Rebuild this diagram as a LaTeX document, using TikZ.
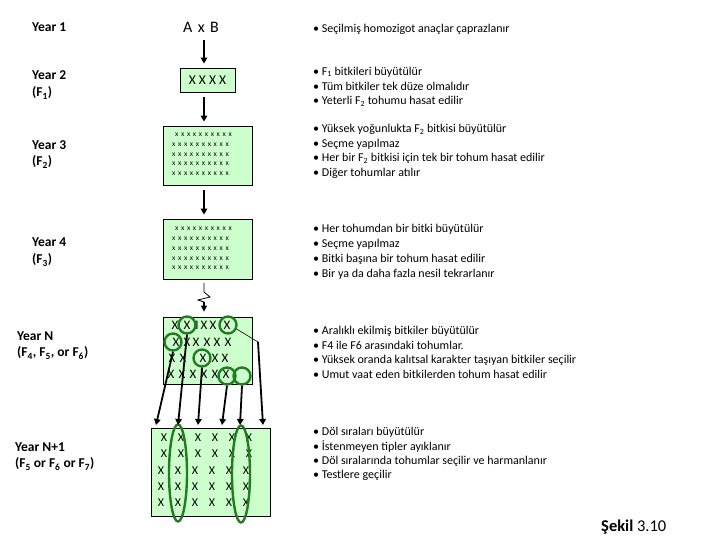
\documentclass[tikz,border=0pt]{standalone}
\usepackage{fontspec}
\setmainfont{Carlito}
\usetikzlibrary{arrows.meta,shapes.geometric}
\definecolor{boxgreen}{RGB}{204,255,204}
\definecolor{ringgreen}{RGB}{34,125,34}
\newcommand\xg{\hspace{2.7pt}}
\newcommand\xtenrow{x\xg x\xg x\xg x\xg x\xg x\xg x\xg x\xg x\xg x}
\begin{document}
\begin{tikzpicture}[x=1pt,y=-1pt,
  yearlbl/.style={font=\fontsize{13.5}{15}\selectfont\bfseries, anchor=west, inner sep=0},
  bul/.style={font=\fontsize{12}{14}\selectfont, anchor=west, inner sep=0},
  gbox/.style={draw=black, line width=0.8pt, fill=boxgreen, inner sep=0},
  flow/.style={line width=1.6pt, -{Triangle[length=6pt,width=6.5pt]}},
  pick/.style={line width=1.8pt, -{Triangle[length=6pt,width=6.5pt]}},
  ring/.style={draw=ringgreen, line width=2.4pt, circle, minimum size=17pt, inner sep=0},
  oval/.style={draw=ringgreen, line width=2.4pt, ellipse, minimum width=18pt, minimum height=97pt, inner sep=0},
  smallx/.style={font=\fontsize{7.5}{8}\selectfont, inner sep=0},
  bigx/.style={font=\fontsize{13}{14}\selectfont, inner sep=0},
  gridx/.style={font=\fontsize{12}{13}\selectfont, inner sep=0}]
\useasboundingbox (0,0) rectangle (720,540);

% left labels
\node[yearlbl] (y1) at (32,27) {Year 1};
\node[yearlbl] (y2) at (32,75) {Year 2};
\node[yearlbl] (y2f) at (32,93) {(F\textsubscript{1})};
\node[yearlbl] (y3) at (32,145) {Year 3};
\node[yearlbl] (y3f) at (32,162) {(F\textsubscript{2})};
\node[yearlbl] (y4) at (32,242) {Year 4};
\node[yearlbl] (y4f) at (32,260) {(F\textsubscript{3})};
\node[yearlbl] (yn) at (17,336) {Year N};
\node[yearlbl] (ynf) at (17,353) {(F\textsubscript{4}, F\textsubscript{5}, or F\textsubscript{6})};
\node[yearlbl] (yn1) at (15,447) {Year N+1};
\node[yearlbl] (yn1f) at (15,464) {(F\textsubscript{5} or F\textsubscript{6} or F\textsubscript{7})};

% centre column
\node[font=\fontsize{16}{18}\selectfont, inner sep=0] (ab) at (201,27) {A\,\,x\,\,B};
\node[gbox, minimum width=55pt, minimum height=24pt, font=\fontsize{13.5}{15}\selectfont] (b1) at (207.5,80) {X X X X};
\node[gbox, minimum width=89pt, minimum height=59pt] (b2) at (207.5,155.5) {};
\node[gbox, minimum width=89pt, minimum height=60pt] (b3) at (207.5,249) {};
\node[gbox, minimum width=89pt, minimum height=67pt] (b4) at (207.5,350.5) {};
\node[gbox, minimum width=119pt, minimum height=88pt] (b5) at (210.5,472) {};

% x rows
\node[smallx] (b2r1) at (203.5,135) {\xtenrow};
\node[smallx] (b2r2) at (200.5,145) {\xtenrow};
\node[smallx] (b2r3) at (200.5,154.5) {\xtenrow};
\node[smallx] (b2r4) at (200.5,164) {\xtenrow};
\node[smallx] (b2r5) at (200.5,173.5) {\xtenrow};
\node[smallx] (b3r1) at (203.5,229) {\xtenrow};
\node[smallx] (b3r2) at (200.5,239) {\xtenrow};
\node[smallx] (b3r3) at (200.5,248.5) {\xtenrow};
\node[smallx] (b3r4) at (200.5,258.5) {\xtenrow};
\node[smallx] (b3r5) at (200.5,268) {\xtenrow};

% Year N plants
\foreach \xx [count=\i] in {175,187,204,213,227} \node[bigx] (na\i) at (\xx,325) {X};
\node[bigx] (naI) at (197,325) {I};
\foreach \xx [count=\i] in {176,187,196,207,217,228} \node[bigx] (nb\i) at (\xx,342) {X};
\foreach \xx [count=\i] in {172,183,203,215,225} \node[bigx] (nc\i) at (\xx,358) {X};
\foreach \xx [count=\i] in {171,182,193,204,215,226} \node[bigx] (nd\i) at (\xx,374) {X};

% Year N+1 rows
\foreach \yy [count=\j] in {438,454} {
  \foreach \xx [count=\i] in {164,181,198,215,232,249} \node[gridx] (g\j c\i) at (\xx,\yy) {X};
}
\foreach \yy [count=\j from 3] in {471,487,503} {
  \foreach \xx [count=\i] in {161,178,195,212,229,246} \node[gridx] (g\j c\i) at (\xx,\yy) {X};
}

% selection rings
\node[ring] (c1) at (187,325) {};
\node[ring] (c2) at (228,325) {};
\node[ring] (c3) at (173,342) {};
\node[ring] (c4) at (202,358) {};
\node[ring] (c5) at (227,376) {};
\node[ring] (c6) at (242,376) {};
\node[oval] (e1) at (178,473) {};
\node[oval] (e2) at (241,474) {};

% flow arrows
\draw[flow, shorten <=8pt, shorten >=4pt] ([xshift=3pt]ab.south) -- ([xshift=-3.5pt]b1.north);
\draw[flow, shorten <=5pt, shorten >=4pt] ([xshift=-3.5pt]b1.south) -- ([xshift=-3.5pt]b2.north);
\draw[flow, shorten <=5pt, shorten >=4pt] ([xshift=-3.5pt]b2.south) -- ([xshift=-3.5pt]b3.north);
\coordinate (z1) at (204,283);
\coordinate (z2) at (204,292);
\coordinate (z3) at (210,297);
\coordinate (z4) at (198,300);
\coordinate (z5) at (204,302);
\draw[line width=0.8pt] (z1) -- (z2) -- (z3) -- (z4) -- (z5);
\draw[line width=1.2pt, -{Triangle[length=6pt,width=6pt]}, shorten >=5pt] (z5) -- ([xshift=-3.5pt]b4.north);

% selection arrows
\coordinate (t1) at (156,425);
\coordinate (t2) at (178,425);
\coordinate (t3) at (198,425);
\coordinate (t4) at (222,425);
\coordinate (t5) at (240,425);
\coordinate (t6) at (263,425);
\coordinate (k6) at (258,342);
\draw[pick] (c3.south) -- (t1);
\draw[pick] (c1.south) -- (t2);
\draw[pick] (c4.south) -- (t3);
\draw[pick] (c5.south) -- (t4);
\draw[pick] (c6.south) -- (t5);
\draw[line width=0.6pt] (c2.-25) -- (k6);
\draw[pick] (k6) -- (t6);

% right texts
\node[bul] (r1) at (313,29) {• Seçilmiş homozigot anaçlar çaprazlanır};
\node[bul] (r2a) at (313,72) {• F\textsubscript{1} bitkileri büyütülür};
\node[bul] (r2b) at (313,86.5) {• Tüm bitkiler tek düze olmalıdır};
\node[bul] (r2c) at (313,101) {• Yeterli F\textsubscript{2} tohumu hasat edilir};
\node[bul] (r3a) at (313,129.5) {• Yüksek yoğunlukta F\textsubscript{2} bitkisi büyütülür};
\node[bul] (r3b) at (313,144) {• Seçme yapılmaz};
\node[bul] (r3c) at (313,158.5) {• Her bir F\textsubscript{2} bitkisi için tek bir tohum hasat edilir};
\node[bul] (r3d) at (313,173) {• Diğer tohumlar atılır};
\node[bul] (r4a) at (313,229.5) {• Her tohumdan bir bitki büyütülür};
\node[bul] (r4b) at (313,244) {• Seçme yapılmaz};
\node[bul] (r4c) at (313,259) {• Bitki başına bir tohum hasat edilir};
\node[bul] (r4d) at (313,274) {• Bir ya da daha fazla nesil tekrarlanır};
\node[bul] (r5a) at (313,331) {• Aralıklı ekilmiş bitkiler büyütülür};
\node[bul] (r5b) at (313,345.5) {• F4 ile F6 arasındaki tohumlar.};
\node[bul] (r5c) at (313,360) {• Yüksek oranda kalıtsal karakter taşıyan bitkiler seçilir};
\node[bul] (r5d) at (313,374) {• Umut vaat eden bitkilerden tohum hasat edilir};
\node[bul] (r6a) at (313,432) {• Döl sıraları büyütülür};
\node[bul] (r6b) at (313,446.5) {• İstenmeyen tipler ayıklanır};
\node[bul] (r6c) at (313,461) {• Döl sıralarında tohumlar seçilir ve harmanlanır};
\node[bul] (r6d) at (313,475) {• Testlere geçilir};

\node[anchor=west, inner sep=0, font=\fontsize{16.5}{18}\selectfont] (cap) at (601,527) {\textbf{Şekil} 3.10};
\end{tikzpicture}
\end{document}
